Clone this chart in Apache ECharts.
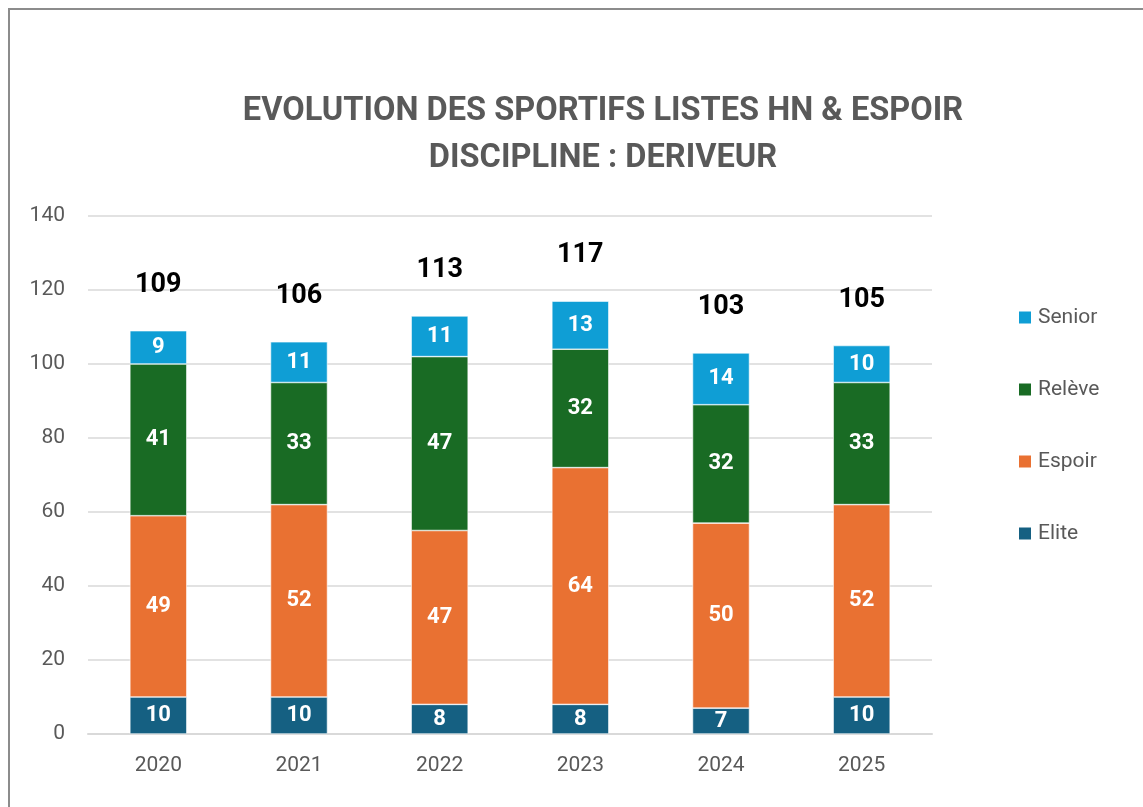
<!DOCTYPE html>
<html>
<head>
<meta charset="utf-8">
<script src="https://cdn.jsdelivr.net/npm/echarts@6/dist/echarts.min.js"></script>
<style>
  html, body { margin: 0; padding: 0; background: #fff; }
  #chart { width: 1143px; height: 807px; }
</style>
</head>
<body>
<div id="chart"></div>
<script>
// Athletes on the high-level & espoir lists, dinghy discipline, per year
const years = ['2020', '2021', '2022', '2023', '2024', '2025'];
const elite = [10, 10, 8, 8, 7, 10];
const espoir = [49, 52, 47, 64, 50, 52];
const releve = [41, 33, 47, 32, 32, 33];
const senior = [9, 11, 11, 13, 14, 10];
const totals = [109, 106, 113, 117, 103, 105];
const yTicks = [0, 20, 40, 60, 80, 100, 120, 140];

const FONT = 'Roboto, "Open Sans", sans-serif';
const GREY = '#595959';

const chart = echarts.init(document.getElementById('chart'), null, { renderer: 'canvas' });

function stackSeries(name, data, color) {
  return {
    name: name,
    type: 'bar',
    stack: 'total',
    data: data,
    barWidth: 57,
    itemStyle: { color: color, borderColor: '#ffffff', borderWidth: 0.6 },
    label: {
      show: true,
      position: 'inside',
      color: '#ffffff',
      fontFamily: FONT,
      fontWeight: 'bold',
      fontSize: 22
    },
    emphasis: { disabled: true }
  };
}

chart.setOption({
  animation: false,
  backgroundColor: '#ffffff',
  graphic: [{
    type: 'rect',
    shape: { x: 9, y: 9, width: 1200, height: 900 },
    style: { fill: 'none', stroke: '#8c8c8c', lineWidth: 2 },
    silent: true
  }],
  title: {
    text: 'EVOLUTION DES SPORTIFS LISTES HN & ESPOIR\nDISCIPLINE : DERIVEUR',
    left: 598,
    top: 83,
    textAlign: 'center',
    textStyle: {
      fontFamily: FONT,
      fontWeight: 'bold',
      fontSize: 32.6,
      lineHeight: 47,
      color: GREY
    }
  },
  legend: {
    orient: 'vertical',
    left: 1017,
    top: 307,
    padding: 0,
    itemWidth: 14,
    itemHeight: 14,
    itemGap: 51,
    icon: 'rect',
    data: ['Senior', 'Relève', 'Espoir', 'Elite'],
    textStyle: { fontFamily: FONT, fontSize: 21, color: GREY, padding: [0, 0, 0, 1] }
  },
  grid: { left: 88, right: 211, top: 216, bottom: 73, containLabel: false },
  xAxis: {
    type: 'category',
    data: years,
    axisLine: { lineStyle: { color: '#d9d9d9', width: 2 } },
    axisTick: { show: false },
    axisLabel: { fontFamily: FONT, fontSize: 21, color: GREY, margin: 21 }
  },
  yAxis: {
    type: 'value',
    min: yTicks[0],
    max: yTicks[yTicks.length - 1],
    interval: yTicks[1] - yTicks[0],
    axisLine: { show: false },
    axisTick: { show: false },
    splitLine: { lineStyle: { color: '#d9d9d9', width: 1.5 } },
    axisLabel: { fontFamily: FONT, fontSize: 21, color: GREY, margin: 23 }
  },
  series: [
    stackSeries('Elite', elite, '#156082'),
    stackSeries('Espoir', espoir, '#e97132'),
    stackSeries('Relève', releve, '#196b24'),
    stackSeries('Senior', senior, '#0f9ed5'),
    {
      // transparent overlay bar carrying the column totals
      name: 'Total',
      type: 'bar',
      data: totals,
      barWidth: 57,
      barGap: '-100%',
      z: 1,
      silent: true,
      itemStyle: { color: 'rgba(0,0,0,0)' },
      emphasis: { disabled: true },
      label: {
        show: true,
        position: 'top',
        distance: 32,
        color: '#000000',
        fontFamily: FONT,
        fontWeight: 'bold',
        fontSize: 27
      }
    }
  ]
});
</script>
</body>
</html>
